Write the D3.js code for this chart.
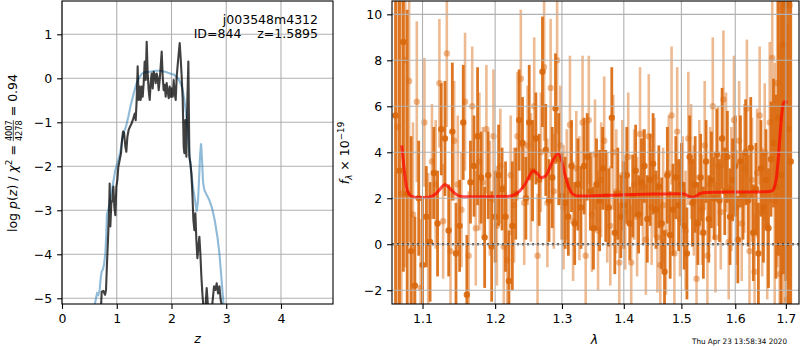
<!DOCTYPE html>
<html>
<head>
<meta charset="utf-8">
<script src="https://cdn.jsdelivr.net/npm/d3@7"></script>
<style>
    body { margin: 0; background: #fff; }
    text { font-family: "DejaVu Sans", sans-serif; }
</style>
</head>
<body>
<div id="chart"></div>
<script>
/***********************************************************
 * Data
 * *********************************************************
 */
// p(z) panel: template fit (blue) and full fit (black)
let zBlue = [0.591, 0.615, 0.640, 0.664, 0.688, 0.706, 0.725, 0.743, 0.767, 0.792, 0.810, 0.822, 0.847, 0.877,
    0.907, 0.938, 0.968, 0.999, 1.029, 1.060, 1.096, 1.133, 1.169, 1.212, 1.255, 1.303, 1.352, 1.401, 1.456,
    1.516, 1.608, 1.699, 1.791, 1.882, 1.973, 2.046, 2.107, 2.156, 2.199, 2.235, 2.266, 2.296, 2.326, 2.363,
    2.400, 2.430, 2.460, 2.485, 2.503, 2.521, 2.540, 2.558, 2.576, 2.600, 2.643, 2.692, 2.741, 2.789, 2.838,
    2.875, 2.905, 2.929, 2.954];
let lpBlue = [-5.19, -5.04, -4.89, -4.92, -4.81, -4.55, -4.39, -4.36, -4.24, -3.98, -3.52, -3.07, -2.99, -2.77,
    -2.58, -2.35, -2.12, -1.97, -1.86, -1.70, -1.44, -1.21, -1.10, -0.87, -0.61, -0.38, -0.15, 0.00, 0.10,
    0.14, 0.15, 0.17, 0.17, 0.15, 0.11, 0.08, 0.02, -0.08, -0.23, -0.49, -0.80, -1.25, -1.70, -2.16,
    -2.54, -2.77, -3.03, -2.77, -2.31, -1.78, -1.48, -1.86, -2.35, -2.54, -2.65, -2.77, -2.95, -3.22, -3.60,
    -3.98, -4.43, -4.81, -5.19];

let zBlack = [0.713, 0.725, 0.755, 0.786, 0.804, 0.822, 0.840, 0.859, 0.871, 0.883, 0.901, 0.920, 0.938, 0.956,
    0.974, 0.993, 1.011, 1.029, 1.054, 1.078, 1.096, 1.115, 1.133, 1.157, 1.175, 1.194, 1.218, 1.242, 1.273,
    1.303, 1.328, 1.346, 1.364, 1.382, 1.401, 1.419, 1.437, 1.456, 1.474, 1.492, 1.510, 1.529, 1.547, 1.565,
    1.583, 1.602, 1.620, 1.638, 1.657, 1.675, 1.693, 1.711, 1.730, 1.748, 1.766, 1.784, 1.803, 1.821, 1.839,
    1.857, 1.876, 1.894, 1.912, 1.931, 1.949, 1.967, 1.985, 2.004, 2.022, 2.040, 2.058, 2.077, 2.095, 2.113,
    2.132, 2.150, 2.168, 2.186, 2.205, 2.223, 2.235, 2.253, 2.272, 2.290, 2.308, 2.326, 2.345, 2.363, 2.381,
    2.400, 2.418, 2.436, 2.454, 2.473, 2.491, 2.509, 2.527, 2.546, 2.564, 2.582, 2.620, 2.643, 2.667, 2.741,
    2.777, 2.801, 2.826, 2.850, 2.875, 2.899, 2.923];
let lpBlack = [-5.19, -4.85, -4.83, -4.92, -4.81, -4.20, -3.67, -3.07, -2.39, -3.37, -2.84, -2.77, -2.46, -2.92,
    -3.11, -2.46, -2.31, -2.01, -1.86, -1.70, -1.40, -1.21, -1.23, -1.55, -1.67, -1.33, -1.17, -1.10, -1.02,
    -0.91, -0.80, -0.95, -0.49, 0.27, -0.49, -0.19, -0.49, -0.19, -0.42, -0.11, 0.38, -0.04, 0.83, 0.11,
    -0.27, -0.49, -0.11, 0.11, -0.23, 0.15, 0.08, -0.11, 0.11, 0.00, -0.27, -0.04, 0.27, 0.61, 0.04,
    -0.27, -0.15, -0.42, -0.11, -0.30, -0.45, -0.19, -0.42, -0.23, -0.42, -0.04, -0.34, -0.49, 0.04, 0.30,
    0.57, 0.80, 0.45, 0.04, -0.49, -1.55, -1.70, -0.95, -1.78, -0.49, 0.38, -1.78, -1.93, -2.16, -2.61,
    -3.22, -3.45, -3.07, -3.67, -4.09, -3.83, -3.60, -3.98, -4.51, -4.89, -5.19, -5.19, -4.77, -5.19, -5.19,
    -4.73, -4.81, -4.66, -4.89, -4.73, -5.04, -5.19];

// spectrum panel: two beams, wavelength (micron), flux and error (1e-19)
let waveA = [1.065, 1.070, 1.075, 1.080, 1.085, 1.090, 1.095, 1.100, 1.105, 1.110,
    1.115, 1.120, 1.125, 1.130, 1.135, 1.140, 1.145, 1.150, 1.155, 1.160,
    1.165, 1.170, 1.175, 1.180, 1.185, 1.190, 1.195, 1.200, 1.205, 1.210,
    1.215, 1.220, 1.225, 1.230, 1.235, 1.240, 1.245, 1.250, 1.255, 1.260,
    1.265, 1.270, 1.275, 1.280, 1.285, 1.290, 1.295, 1.300, 1.305, 1.310,
    1.315, 1.320, 1.325, 1.330, 1.335, 1.340, 1.345, 1.350, 1.355, 1.360,
    1.365, 1.370, 1.375, 1.380, 1.385, 1.390, 1.395, 1.400, 1.405, 1.410,
    1.415, 1.420, 1.425, 1.430, 1.435, 1.440, 1.445, 1.450, 1.455, 1.460,
    1.465, 1.470, 1.475, 1.480, 1.485, 1.490, 1.495, 1.500, 1.505, 1.510,
    1.515, 1.520, 1.525, 1.530, 1.535, 1.540, 1.545, 1.550, 1.555, 1.560,
    1.565, 1.570, 1.575, 1.580, 1.585, 1.590, 1.595, 1.600, 1.605, 1.610,
    1.615, 1.620, 1.625, 1.630, 1.635, 1.640, 1.645, 1.650, 1.655, 1.660,
    1.665, 1.670, 1.675, 1.680, 1.685, 1.690, 1.695, 1.700, 1.705, 1.710];
let fluxA = [5.6, 3.2, 8.8, 2.2, -0.3, -1.8, 2.0, -0.9, 1.2, 0.1,
    3.1, 0.9, 5.0, 4.6, 0.6, 4.9, -0.4, 0.8, 5.3, -2.2,
    2.7, 3.4, 4.7, 2.9, 0.3, 3.0, -0.1, 1.2, 3.0, 2.4,
    1.2, -1.6, 0.8, 2.2, 5.4, 4.4, 2.0, 5.3, 3.2, 4.6,
    2.8, 7.5, 4.1, 1.9, 2.9, 5.9, 3.7, 2.1, 1.8, 1.2,
    3.4, 0.9, 2.6, 1.6, 3.4, 3.8, 2.3, 0.7, 2.6, 1.9,
    3.3, 2.1, 1.6, 5.5, 0.5, 2.2, 1.2, 1.7, 3.0, 0.9,
    2.1, 3.2, 1.3, 2.7, 3.4, 1.1, 2.8, 3.5, 1.5, 2.5,
    0.9, -1.2, 3.0, 0.4, 1.5, 2.9, 1.7, 2.6, 0.8, -0.4,
    3.8, 1.8, 2.6, 0.9, 2.9, 0.5, 3.6, 1.1, 2.8, 2.0,
    3.9, 1.9, 4.6, 2.3, 3.8, 1.2, 2.8, 3.4, 0.2, 3.6,
    2.1, 4.0, 1.9, 4.2, 0.5, 2.4, -0.4, 3.3, 1.6, 2.8,
    0.7, 3.7, 4.4, 2.5, 5.5, 3.0, 8.7, 10.4, 5.0, 3.6];
let errA = [12, 9, 10, 8, 5, 3, 2.5, 3, 2.2, 2.6,
    2.0, 2.3, 2.0, 2.5, 2.0, 3.0, 2.2, 2.0, 2.5, 2.6,
    1.8, 2.2, 3.0, 2.0, 2.2, 1.9, 2.4, 2.0, 2.2, 1.8,
    2.4, 2.2, 2.8, 2.0, 2.2, 2.0, 1.8, 2.5, 2.2, 2.0,
    2.0, 2.4, 2.0, 1.8, 2.2, 2.4, 2.0, 1.9, 2.0, 1.7,
    2.0, 1.8, 2.0, 1.8, 2.1, 1.9, 1.7, 1.8, 2.0, 2.2,
    1.8, 2.0, 1.7, 2.2, 1.8, 2.0, 1.8, 1.9, 2.1, 1.6,
    1.8, 2.0, 1.7, 1.9, 1.6, 1.9, 2.0, 2.2, 1.7, 1.8,
    2.0, 1.8, 2.1, 1.9, 2.0, 1.8, 2.0, 1.8, 1.9, 2.0,
    1.8, 1.9, 2.1, 1.8, 1.9, 2.0, 1.8, 1.9, 2.1, 1.8,
    2.0, 1.8, 2.2, 1.9, 2.0, 2.1, 1.8, 2.2, 1.9, 2.0,
    1.9, 2.3, 2.0, 2.2, 2.1, 2.0, 2.2, 2.1, 2.4, 2.2,
    2.6, 2.5, 2.8, 4, 6, 9, 10, 12, 14, 12];

let waveB = [1.0675, 1.0725, 1.0775, 1.0825, 1.0875, 1.0925, 1.0975, 1.1025, 1.1075, 1.1125,
    1.1175, 1.1225, 1.1275, 1.1325, 1.1375, 1.1425, 1.1475, 1.1525, 1.1575, 1.1625,
    1.1675, 1.1725, 1.1775, 1.1825, 1.1875, 1.1925, 1.1975, 1.2025, 1.2075, 1.2125,
    1.2175, 1.2225, 1.2275, 1.2325, 1.2375, 1.2425, 1.2475, 1.2525, 1.2575, 1.2625,
    1.2675, 1.2725, 1.2775, 1.2825, 1.2875, 1.2925, 1.2975, 1.3025, 1.3075, 1.3125,
    1.3175, 1.3225, 1.3275, 1.3325, 1.3375, 1.3425, 1.3475, 1.3525, 1.3575, 1.3625,
    1.3675, 1.3725, 1.3775, 1.3825, 1.3875, 1.3925, 1.3975, 1.4025, 1.4075, 1.4125,
    1.4175, 1.4225, 1.4275, 1.4325, 1.4375, 1.4425, 1.4475, 1.4525, 1.4575, 1.4625,
    1.4675, 1.4725, 1.4775, 1.4825, 1.4875, 1.4925, 1.4975, 1.5025, 1.5075, 1.5125,
    1.5175, 1.5225, 1.5275, 1.5325, 1.5375, 1.5425, 1.5475, 1.5525, 1.5575, 1.5625,
    1.5675, 1.5725, 1.5775, 1.5825, 1.5875, 1.5925, 1.5975, 1.6025, 1.6075, 1.6125,
    1.6175, 1.6225, 1.6275, 1.6325, 1.6375, 1.6425, 1.6475, 1.6525, 1.6575, 1.6625,
    1.6675, 1.6725, 1.6775, 1.6825, 1.6875, 1.6925, 1.6975, 1.7025, 1.7075];
let fluxB = [5.1, 2.2, 8.0, 7.1, 1.3, 6.2, -1.9, 5.3, 0.1, 3.6,
    2.6, 7.0, 1.0, 8.3, -0.3, 4.5, 2.6, 1.5, 6.2, -0.5,
    6.0, 0.7, 3.6, 2.7, 5.0, 2.0, 4.7, 0.8, 3.4, -0.1,
    -0.7, 3.0, 1.7, 4.7, 7.2, 1.8, 4.3, 2.9, 6.0, -0.5,
    4.0, 7.7, 1.8, 6.8, 2.3, 8.0, 4.3, 1.6, 2.6, 5.2,
    1.0, 3.3, 2.0, 5.3, -0.5, 5.4, 1.3, 3.9, 0.6, 2.8,
    4.5, 1.6, 0.8, 4.0, 2.3, -0.8, 3.0, 1.4, 3.8, -0.8,
    2.6, 1.2, 4.8, 2.5, 0.2, 4.7, 1.6, 2.9, 0.3, -0.9,
    1.7, 0.5, 3.1, 5.6, -0.4, 4.9, 1.1, 2.3, 0.6, 4.6,
    3.6, 1.9, -1.5, 2.9, 1.5, 4.3, -0.5, 2.6, 6.0, 0.3,
    3.4, 1.4, 6.3, 4.0, 0.1, 2.4, 5.4, 1.6, 4.5, 0.9,
    3.3, 5.9, -0.3, 2.8, -1.2, 3.1, 5.6, 1.4, 4.0, 0.8,
    5.3, 8.1, 1.9, 7.0, -1.3, 6.0, 8.6, -2.4, 10.4];
let errB = [10, 9, 9, 7, 4, 3.5, 3, 2.8, 3.0, 2.5,
    2.8, 2.8, 2.5, 3.2, 2.7, 2.6, 3.0, 2.5, 3.0, 2.8,
    2.6, 2.5, 3.0, 2.4, 2.8, 2.5, 2.9, 2.6, 2.5, 2.7,
    2.8, 2.6, 2.5, 2.8, 3.0, 2.7, 2.6, 2.8, 3.0, 2.7,
    2.6, 3.2, 2.8, 3.0, 2.5, 3.2, 2.6, 2.7, 2.4, 3.0,
    2.6, 2.5, 2.7, 2.9, 2.6, 2.8, 2.5, 2.4, 2.6, 2.5,
    2.8, 2.4, 2.6, 2.5, 2.7, 2.6, 2.4, 2.5, 2.8, 2.5,
    2.4, 2.6, 2.9, 2.5, 2.4, 2.7, 2.5, 2.6, 2.4, 2.6,
    2.5, 2.7, 2.5, 3.0, 2.6, 2.8, 2.5, 2.4, 2.6, 2.9,
    2.5, 2.4, 2.6, 2.5, 2.4, 2.8, 2.6, 2.5, 3.0, 2.4,
    2.6, 2.5, 3.0, 2.6, 2.5, 2.7, 2.8, 2.5, 2.6, 2.5,
    2.8, 3.0, 2.6, 2.7, 2.5, 2.8, 3.0, 2.8, 3.0, 3.2,
    3.5, 4.5, 6, 8, 10, 12, 12, 12, 14];

// best-fit model
let modelWave = [1.073, 1.076, 1.079, 1.082, 1.087, 1.095, 1.105, 1.112, 1.118, 1.124, 1.130, 1.136, 1.143,
    1.150, 1.158, 1.180, 1.200, 1.220, 1.228, 1.236, 1.244, 1.250, 1.256, 1.262, 1.268, 1.274, 1.280, 1.287,
    1.294, 1.299, 1.305, 1.311, 1.317, 1.325, 1.360, 1.400, 1.450, 1.490, 1.505, 1.513, 1.520, 1.527, 1.535,
    1.545, 1.600, 1.660, 1.672, 1.677, 1.681, 1.685, 1.689, 1.693, 1.697, 1.703];
let modelFlux = [4.3, 3.3, 2.5, 2.2, 2.07, 2.03, 2.03, 2.08, 2.2, 2.42, 2.6, 2.45, 2.22,
    2.09, 2.06, 2.06, 2.07, 2.09, 2.15, 2.32, 2.62, 2.95, 3.2, 3.08, 2.9, 2.95, 3.25, 3.7,
    3.92, 3.7, 3.0, 2.45, 2.18, 2.1, 2.12, 2.15, 2.18, 2.2, 2.18, 2.08, 2.04, 2.1, 2.22,
    2.25, 2.27, 2.28, 2.32, 2.5, 2.9, 3.8, 5.0, 5.9, 6.2, 6.15];

// ticks
let zTicks = [0, 1, 2, 3, 4];
let lpTicks = [-5, -4, -3, -2, -1, 0, 1];
let waveTicks = [1.1, 1.2, 1.3, 1.4, 1.5, 1.6, 1.7];
let fluxTicks = [-2, 0, 2, 4, 6, 8, 10];

/***********************************************************
 * Set up chart sizes
 * *********************************************************
 */
let svgWidth = 800;
let svgHeight = 350;
let fontSize = 12.5;
let gridColor = "#b0b0b0";

let pzBox = {left: 62, right: 333, top: 1, bottom: 304};
let spBox = {left: 392, right: 799, top: 1, bottom: 304};

let svg = d3.select("#chart")
    .append("svg")
    .attr("width", svgWidth)
    .attr("height", svgHeight);

let defs = svg.append("defs");
[["clipPz", pzBox], ["clipSp", spBox]].forEach(([id, b]) => {
    defs.append("clipPath").attr("id", id)
        .append("rect")
        .attr("x", b.left).attr("y", b.top)
        .attr("width", b.right - b.left).attr("height", b.bottom - b.top);
});

let xZ = d3.scaleLinear().domain([0, 4.95]).range([pzBox.left, pzBox.right]);
let yZ = d3.scaleLinear().domain([-5.13, 1.757]).range([pzBox.bottom, pzBox.top]);
let xW = d3.scaleLog().domain([1.0605, 1.727]).range([spBox.left, spBox.right]);
let yF = d3.scaleLinear().domain([-2.6, 10.58]).range([spBox.bottom, spBox.top]);

// Function 1: grid lines for one panel
function drawGrid(box, xScale, yScale, xTicks, yTicks) {
    let g = svg.append("g").attr("stroke", gridColor).attr("stroke-width", 1.1);
    xTicks.forEach(t => g.append("line")
        .attr("x1", xScale(t)).attr("x2", xScale(t))
        .attr("y1", box.top).attr("y2", box.bottom));
    yTicks.forEach(t => g.append("line")
        .attr("x1", box.left).attr("x2", box.right)
        .attr("y1", yScale(t)).attr("y2", yScale(t)));
}

// Function 2: axes and frame for one panel
function drawAxes(box, xScale, yScale, xTicks, yTicks, xFmt) {
    let bottom = d3.axisBottom(xScale).tickValues(xTicks).tickFormat(xFmt)
        .tickSize(4.9).tickPadding(4.9);
    let left = d3.axisLeft(yScale).tickValues(yTicks).tickFormat(d3.format("d"))
        .tickSize(4.9).tickPadding(4.9);

    let xa = svg.append("g").attr("transform", `translate(0, ${box.bottom})`).call(bottom);
    let ya = svg.append("g").attr("transform", `translate(${box.left}, 0)`).call(left);
    [xa, ya].forEach(a => {
        a.select(".domain").remove();
        a.selectAll("line").attr("stroke", "#000").attr("stroke-width", 1.1);
        a.selectAll("text").attr("font-size", fontSize).attr("fill", "#000")
            .attr("font-family", "DejaVu Sans");
    });

    svg.append("rect")
        .attr("x", box.left).attr("y", box.top)
        .attr("width", box.right - box.left).attr("height", box.bottom - box.top)
        .attr("fill", "none").attr("stroke", "#000").attr("stroke-width", 1.1);
}

/***********************************************************
 * Left panel: p(z)
 * *********************************************************
 */
drawGrid(pzBox, xZ, yZ, zTicks, lpTicks);

let pzLine = d3.line().x(d => xZ(d[0])).y(d => yZ(d[1]));
let pzGroup = svg.append("g").attr("clip-path", "url(#clipPz)");

pzGroup.append("path")
    .datum(zBlue.map((z, i) => [z, lpBlue[i]]))
    .attr("d", pzLine)
    .attr("fill", "none")
    .attr("stroke", "#1f77b4")
    .attr("stroke-opacity", 0.5)
    .attr("stroke-width", 2.1);

pzGroup.append("path")
    .datum(zBlack.map((z, i) => [z, lpBlack[i]]))
    .attr("d", pzLine)
    .attr("fill", "none")
    .attr("stroke", "#000")
    .attr("stroke-opacity", 0.75)
    .attr("stroke-width", 2.1)
    .attr("stroke-linejoin", "round");

drawAxes(pzBox, xZ, yZ, zTicks, lpTicks, d3.format("d"));

svg.append("text")
    .attr("x", 318).attr("y", 24)
    .attr("text-anchor", "end")
    .attr("font-size", fontSize)
    .text("j003548m4312");

svg.append("text")
    .attr("x", 318).attr("y", 37.5)
    .attr("text-anchor", "end")
    .attr("font-size", fontSize)
    .style("white-space", "pre")
    .text("ID=844    z=1.5895");

svg.append("text")
    .attr("x", 197.5).attr("y", 343)
    .attr("text-anchor", "middle")
    .attr("font-size", fontSize)
    .attr("font-style", "italic")
    .text("z");

// y label with stacked fraction
let yLab = svg.append("g");
let yLabText = yLab.append("text").attr("font-size", fontSize).attr("x", 0).attr("y", 0)
    .style("white-space", "pre");
yLabText.append("tspan").text("log ");
yLabText.append("tspan").attr("font-style", "italic").text("p");
yLabText.append("tspan").text("(");
yLabText.append("tspan").attr("font-style", "italic").text("z");
yLabText.append("tspan").text(") / ");
yLabText.append("tspan").attr("font-style", "italic").text("χ");
yLabText.append("tspan").attr("font-size", 8.8).attr("dy", -4.8).text("2");
yLabText.append("tspan").attr("dy", 4.8).text(" = ");
let numSpan = yLabText.append("tspan").attr("font-size", 8.2).attr("dy", -4.2).text("4007");
let numW = numSpan.node().getComputedTextLength();
let denSpan = yLabText.append("tspan").attr("font-size", 8.2).attr("dx", -numW).attr("dy", 9.6).text("4278");
yLabText.append("tspan").attr("dy", -5.4).text(" = 0.94");

let nb = numSpan.node().getBBox();
yLab.append("line")
    .attr("x1", nb.x).attr("x2", nb.x + numW)
    .attr("y1", -3.2).attr("y2", -3.2)
    .attr("stroke", "#000").attr("stroke-width", 0.7);

let labW = yLabText.node().getBBox().width;
yLab.attr("transform", `translate(16.5, ${153 + labW / 2}) rotate(-90)`);

/***********************************************************
 * Right panel: spectrum
 * *********************************************************
 */
let spGroup = svg.append("g").attr("clip-path", "url(#clipSp)");
let orange = "#d9670b";

// Function 3: one beam of error bars and points
function drawBeam(waves, fluxes, errs, opacity, barWidth) {
    let pts = waves.map((w, i) => ({w: w, f: fluxes[i], e: errs[i]}));
    let g = spGroup.append("g");
    g.selectAll("line")
        .data(pts)
        .enter()
        .append("line")
        .attr("x1", d => xW(d.w)).attr("x2", d => xW(d.w))
        .attr("y1", d => yF(d.f - d.e)).attr("y2", d => yF(d.f + d.e))
        .attr("stroke", orange)
        .attr("stroke-opacity", opacity)
        .attr("stroke-width", barWidth);
    g.selectAll("circle")
        .data(pts)
        .enter()
        .append("circle")
        .attr("cx", d => xW(d.w)).attr("cy", d => yF(d.f))
        .attr("r", 3.2)
        .attr("fill", orange)
        .attr("fill-opacity", opacity);
}

drawBeam(waveB, fluxB, errB, 0.45, 2.6);
drawBeam(waveA, fluxA, errA, 0.9, 2.8);

drawGrid(spBox, xW, yF, waveTicks, fluxTicks);

spGroup.append("line")
    .attr("x1", spBox.left).attr("x2", spBox.right)
    .attr("y1", yF(0)).attr("y2", yF(0))
    .attr("stroke", "#000")
    .attr("stroke-width", 2)
    .attr("stroke-dasharray", "2,3");

spGroup.append("path")
    .datum(modelWave.map((w, i) => [w, modelFlux[i]]))
    .attr("d", d3.line().curve(d3.curveMonotoneX).x(d => xW(d[0])).y(d => yF(d[1])))
    .attr("fill", "none")
    .attr("stroke", "#ff0000")
    .attr("stroke-opacity", 0.7)
    .attr("stroke-width", 3);

drawAxes(spBox, xW, yF, waveTicks, fluxTicks, d3.format(".1f"));

svg.append("text")
    .attr("x", 594.5).attr("y", 344)
    .attr("text-anchor", "middle")
    .attr("font-size", fontSize)
    .attr("font-style", "italic")
    .text("λ");

let fLab = svg.append("text")
    .attr("transform", "translate(349, 153) rotate(-90)")
    .attr("text-anchor", "middle")
    .attr("font-size", fontSize);
fLab.append("tspan").attr("font-style", "italic").text("f");
fLab.append("tspan").attr("font-style", "italic").attr("font-size", 8.8).attr("dy", 2.6).text("λ");
fLab.append("tspan").attr("dy", -2.6).text(" × 10");
fLab.append("tspan").attr("font-size", 8.8).attr("dy", -4.8).text("−19");

svg.append("text")
    .attr("x", 692).attr("y", 344)
    .attr("font-size", 7.5)
    .attr("textLength", 95)
    .attr("lengthAdjust", "spacingAndGlyphs")
    .text("Thu Apr 23 13:58:34 2020");
</script>
</body>
</html>
